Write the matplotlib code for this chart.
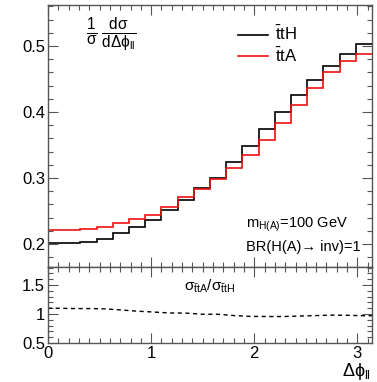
import numpy as np
import matplotlib
matplotlib.use("Agg")
import matplotlib.pyplot as plt
from matplotlib.ticker import MultipleLocator

plt.rcParams['font.family'] = ['Liberation Sans', 'DejaVu Sans']
plt.rcParams['mathtext.fontset'] = 'custom'
plt.rcParams['mathtext.rm'] = 'Liberation Sans'
plt.rcParams['mathtext.it'] = 'Liberation Sans'
plt.rcParams['mathtext.bf'] = 'Liberation Sans:bold'

# normalised delta-phi(l,l) distributions, 20 bins over [0, pi]
n_bins = 20
tth = [0.201, 0.202, 0.2035, 0.2075, 0.216, 0.226, 0.236, 0.252, 0.267, 0.284,
       0.2995, 0.324, 0.3485, 0.374, 0.4005, 0.4258, 0.4485, 0.469, 0.488, 0.5026]
tta = [0.221, 0.221, 0.2225, 0.226, 0.231, 0.237, 0.244, 0.2565, 0.271, 0.283,
       0.298, 0.315, 0.334, 0.3576, 0.383, 0.4106, 0.436, 0.46, 0.477, 0.4874]

edges = np.linspace(0, np.pi, n_bins + 1)
centers = 0.5 * (edges[:-1] + edges[1:])
ratio = np.array(tta) / np.array(tth)

W, H = 377, 382
fig = plt.figure(figsize=(W / 100, H / 100), dpi=100)
left, right = 48, 372
ax = fig.add_axes([left / W, 1 - 267 / H, (right - left) / W, (267 - 5) / H])
axr = fig.add_axes([left / W, 1 - 343 / H, (right - left) / W, (343 - 267) / H], sharex=ax)

frame_col = '#555555'
for a in (ax, axr):
    for s in a.spines.values():
        s.set_color(frame_col)
        s.set_linewidth(1.0)
    a.tick_params(which='both', direction='in', top=True, right=True,
                  colors=frame_col, labelcolor='black', labelsize=12, width=0.8)
    a.tick_params(which='major', length=7)
    a.tick_params(which='minor', length=3.5)

# upper panel: the two histograms
ax.stairs(tth, edges, baseline=None, color='black', lw=1.2, label=r'$\mathrm{\bar{t}tH}$')
ax.stairs(tta, edges, baseline=None, color='#ee1111', lw=1.2, label=r'$\mathrm{\bar{t}tA}$')
ax.set_xlim(0, np.pi)
ax.set_ylim(0.165, 0.562)
ax.yaxis.set_major_locator(MultipleLocator(0.1))
ax.yaxis.set_minor_locator(MultipleLocator(0.02))
ax.xaxis.set_major_locator(MultipleLocator(1))
ax.xaxis.set_minor_locator(MultipleLocator(0.1))
ax.tick_params(axis='x', labelbottom=False)
ax.tick_params(axis='y', pad=2)
ax.set_yticks([0.2, 0.3, 0.4, 0.5])
ax.set_yticklabels(['0.2', '0.3', '0.4', '0.5'])

ax.text(0.118, 0.887, r'$\frac{1}{\sigma}\,\frac{d\sigma}{d\Delta\phi_{ll}}$',
        transform=ax.transAxes, fontsize=16, ha='left', va='center')

leg = ax.legend(loc='upper left', bbox_to_anchor=(0.54, 0.98), frameon=False,
                fontsize=12, handlelength=1.8, handletextpad=0.4, labelspacing=0.2)

ax.text(0.61, 0.16, r'm$_{\mathrm{H(A)}}$=100 GeV', transform=ax.transAxes,
        fontsize=10.5, ha='left', va='center')
ax.text(0.61, 0.075, 'BR(H(A)\u2192 inv)=1', transform=ax.transAxes,
        fontsize=10.5, ha='left', va='center')

# lower panel: ratio ttA / ttH
rx = np.concatenate([[0], centers, [np.pi]])
ry = np.concatenate([[ratio[0]], ratio, [ratio[-1]]])
axr.plot(rx, ry, color='black', lw=1.0, ls=(0, (3, 2.5)))
axr.set_ylim(0.5, 1.81)
axr.set_yticks([0.5, 1, 1.5])
axr.set_yticklabels(['0.5', '1', '1.5'])
axr.yaxis.set_minor_locator(MultipleLocator(0.1))
axr.set_xticks([0, 1, 2, 3])
axr.set_xticklabels(['0', '1', '2', '3'])
axr.tick_params(axis='x', pad=2)
axr.tick_params(axis='y', pad=2)
axr.text(0.5, 0.75, r'$\sigma_{\mathrm{\bar{t}tA}}/\sigma_{\mathrm{\bar{t}tH}}$',
         transform=axr.transAxes, fontsize=11, ha='center', va='center')

fig.text(1 - 6 / W, 1 - 376 / H, r'$\Delta\phi_{ll}$', fontsize=13, ha='right', va='baseline')

fig.savefig('out.png', dpi=100)
